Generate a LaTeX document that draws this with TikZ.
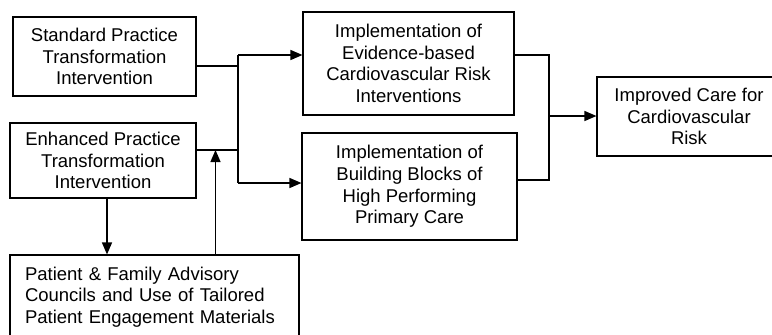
\documentclass[tikz,border=0pt]{standalone}
\usepackage{fontspec}
\setmainfont{Liberation Sans}
\usetikzlibrary{arrows.meta,positioning,calc}

\begin{document}
\begin{tikzpicture}[x=1pt, y=-1pt,
    every node/.style={font=\fontsize{18.5}{21.7}\selectfont},
    box/.style={draw, line width=1.1pt, align=center, inner sep=0pt},
    bus/.style={line width=1.3pt},
    arr/.style={line width=1.3pt, -{Triangle[length=12pt,width=10pt]}}
]
\useasboundingbox (0,0) rectangle (772,335);
\clip (0,0) rectangle (772,335);
% left column
\node[box, minimum width=183pt, minimum height=79pt] (std) at (104.5,56.5)
    {Standard Practice\\Transformation\\Intervention};
\node[box, minimum width=186pt, minimum height=75pt] (enh) at (103,160.5)
    {Enhanced Practice\\Transformation\\Intervention};
\node[box, minimum width=289pt, minimum height=84pt, align=left,
      text width=259pt] (pat) at (154.5,297)
    {Patient \& Family Advisory\\Councils and Use of Tailored\\Patient Engagement Materials};
% middle column
\node[box, minimum width=211pt, minimum height=103pt] (evid) at (408.5,63.5)
    {Implementation of\\Evidence-based\\Cardiovascular Risk\\Interventions};
\node[box, minimum width=215pt, minimum height=107pt] (build) at (409.5,186.5)
    {Implementation of\\Building Blocks of\\High Performing\\Primary Care};
% outcome
\node[box, minimum width=184pt, minimum height=79pt] (imp) at (689,116.5)
    {Improved Care for\\Cardiovascular\\Risk};

% junctions
\coordinate (jA) at (238,55);
\coordinate (jB) at (238,183);
\coordinate (ebar) at (238,150);
\coordinate (jC) at (549,116);

\draw[bus] (jA) -- (jB);
\draw[bus] ([yshift=-9.5pt]std.east) -- ([yshift=-9.5pt]std.east -| jA);
\draw[bus] ([yshift=10.5pt]enh.east) -- (ebar);
\draw[arr] (jA) -- (jA -| evid.west);
\draw[arr] (jB) -- (jB -| build.west);
\draw[arr] ([xshift=4pt]enh.south) -- ([xshift=4pt]enh.south |- pat.north);
\draw[arr] ([xshift=61pt]pat.north) -- ([xshift=61pt]pat.north |- ebar);

\draw[bus] ([yshift=8.5pt]evid.east) -- ([yshift=8.5pt]evid.east -| jC)
    -- ([yshift=6.5pt]build.east -| jC) -- ([yshift=6.5pt]build.east);
\draw[arr] (jC) -- (jC -| imp.west);
\end{tikzpicture}
\end{document}
